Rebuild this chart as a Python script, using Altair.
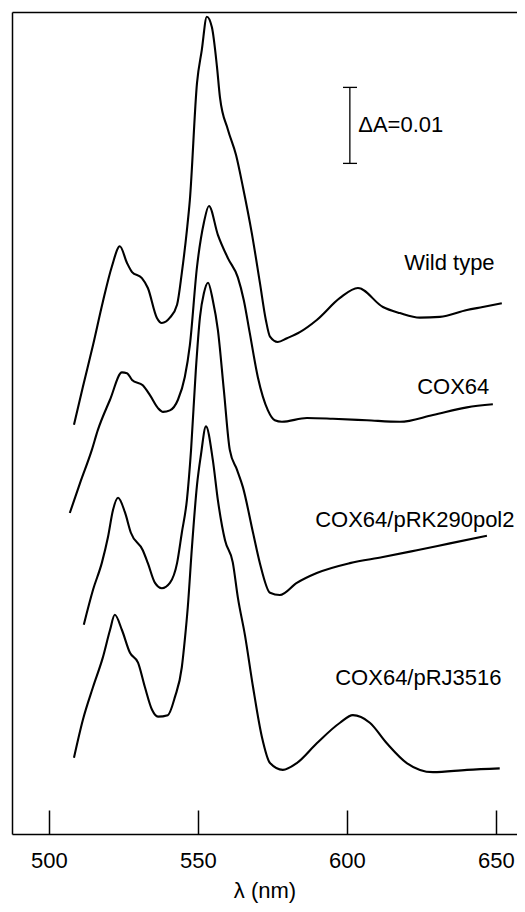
import altair as alt
import pandas as pd

# ---- data (wavelength in nm, absorbance in mA units, curves offset) ----
wt_nm = [508.4, 511.4, 514.8, 518.1, 521.1, 523.8, 526.2, 527.9, 531.2, 533.2, 536.2, 537.9,
         540.6, 543.0, 544.6, 546.3, 547.3, 549.7, 551.3, 553.0, 554.7, 556.4, 557.4, 560.1,
         562.8, 565.1, 568.1, 570.8, 572.8, 574.2, 576.8, 579.9, 584.2, 589.9, 597.7, 603.7,
         612.1, 617.8, 624.5, 631.2, 640.3, 645.6, 652.0]
wt_A = [54.5, 59.5, 65.0, 70.7, 75.3, 78.0, 75.8, 74.6, 73.8, 72.5, 68.6, 67.9,
        68.6, 70.3, 74.5, 80.1, 84.1, 99.5, 103.8, 108.2, 106.8, 101.6, 97.6, 93.3,
        90.0, 85.8, 79.7, 73.2, 68.3, 66.1, 65.4, 65.9, 66.7, 68.3, 71.2, 72.5,
        70.0, 69.2, 68.6, 68.7, 69.6, 70.0, 70.5]

cox_nm = [507.0, 510.4, 514.4, 516.4, 520.5, 524.5, 526.2, 527.9, 531.5, 533.9, 536.6, 538.3,
          540.6, 543.3, 545.6, 547.3, 549.7, 552.0, 553.7, 556.7, 560.1, 563.4, 565.4, 567.4,
          570.1, 573.5, 575.8, 578.2, 586.6, 595.3, 606.7, 617.8, 628.9, 640.3, 649.0]
cox_A = [42.9, 46.8, 51.2, 53.8, 57.8, 61.4, 61.3, 60.4, 59.7, 58.4, 56.7, 56.2,
         56.4, 57.8, 60.8, 65.0, 75.3, 81.1, 83.3, 79.5, 76.4, 73.9, 70.9, 66.6,
         60.8, 56.4, 55.1, 54.9, 55.4, 55.3, 55.1, 54.9, 55.8, 56.8, 57.2]

pol_nm = [511.7, 514.8, 517.8, 519.8, 521.5, 523.2, 525.5, 527.5, 531.5, 533.2, 535.6, 537.9,
          540.6, 543.0, 544.6, 546.3, 547.7, 549.3, 550.7, 552.0, 553.4, 555.0, 556.7, 558.7,
          560.7, 563.1, 565.1, 568.5, 570.8, 574.2, 577.5, 583.2, 589.9, 601.0, 612.1, 623.5,
          634.6, 647.0]
pol_A = [28.2, 32.8, 36.4, 39.7, 43.3, 44.9, 43.0, 40.3, 38.0, 36.3, 33.7, 33.0,
         33.7, 36.3, 40.3, 44.6, 51.2, 61.7, 68.7, 71.8, 73.2, 70.9, 67.0, 59.1,
         51.2, 48.6, 46.3, 40.3, 36.3, 32.4, 32.1, 33.7, 35.0, 36.3, 37.1, 38.0,
         38.9, 39.9]

rj_nm = [508.4, 511.4, 514.8, 518.1, 520.5, 522.1, 524.5, 527.2, 529.9, 532.2, 534.6, 536.6,
         539.9, 542.3, 544.6, 545.6, 546.6, 548.0, 549.7, 551.0, 552.7, 555.0, 556.7, 559.1,
         561.7, 563.4, 565.8, 568.5, 571.5, 574.2, 578.5, 583.2, 589.9, 597.7, 602.0, 607.7,
         613.4, 620.1, 628.9, 640.3, 651.3]
rj_A = [10.7, 15.7, 20.0, 23.9, 27.5, 29.5, 27.5, 24.5, 23.2, 20.0, 17.0, 16.1,
        16.3, 18.7, 22.6, 26.2, 30.5, 38.4, 46.6, 50.5, 54.3, 49.9, 44.6, 39.3,
        36.4, 31.8, 26.8, 20.0, 13.4, 10.0, 9.1, 10.0, 12.6, 15.3, 16.3, 15.3,
        12.6, 10.0, 8.8, 9.1, 9.3]

series_names = ["Wild type", "COX64", "COX64/pRK290pol2", "COX64/pRJ3516"]
label_nm = [634.4, 635.7, 622.8, 624.0]
label_A = [75.8, 59.5, 42.0, 21.2]

tick_vals = [500, 550, 600, 650]

# scale bar (ΔA = 0.01 = 10 mA)
bar_nm = [601.0]
bar_lo = [88.9]
bar_hi = [98.9]
cap_x1 = [598.7, 598.7]
cap_x2 = [603.4, 603.4]
cap_A = [88.9, 98.9]
bar_label = ["ΔA=0.01"]
bar_label_nm = [603.8]
bar_label_A = [93.9]

X_DOMAIN = [487.6, 657.1]
Y_DOMAIN = [0.66, 108.82]

rows = []
for name, xs_, ys_ in zip(series_names, [wt_nm, cox_nm, pol_nm, rj_nm], [wt_A, cox_A, pol_A, rj_A]):
    for a, b in zip(xs_, ys_):
        rows.append({"series": name, "nm": a, "A": b})
df = pd.DataFrame(rows)

FONT = "Liberation Sans"
W, H = 505, 822
xs = alt.Scale(domain=X_DOMAIN, nice=False, zero=False)
ys = alt.Scale(domain=Y_DOMAIN, nice=False, zero=False)

lines = alt.Chart(df).mark_line(color="black", strokeWidth=2.1, interpolate="monotone").encode(
    x=alt.X("nm:Q", scale=xs, axis=alt.Axis(
        orient="bottom", values=tick_vals, ticks=False, domain=True, domainColor="black",
        domainWidth=1.5, grid=False, labelFontSize=22, labelFont=FONT, labelColor="black",
        labelPadding=16, title="λ (nm)", titleFontSize=22, titleFont=FONT,
        titleFontWeight="normal", titleColor="black", titlePadding=9)),
    y=alt.Y("A:Q", scale=ys, axis=alt.Axis(
        orient="left", domain=True, domainColor="black", domainWidth=1.5,
        ticks=False, labels=False, grid=False, title=None)),
    detail="series:N",
)

lab_df = pd.DataFrame({"label": series_names, "nm": label_nm, "A": label_A})
texts = alt.Chart(lab_df).mark_text(font=FONT, fontSize=22, color="black",
                                    align="center", baseline="middle").encode(
    x=alt.X("nm:Q", scale=xs, axis=alt.Axis(
        orient="top", offset=-H, values=tick_vals, ticks=True, tickSize=24,
        tickColor="black", tickWidth=1.5, labels=False, domain=False, grid=False, title=None)),
    y=alt.Y("A:Q", scale=ys, axis=None),
    text="label:N",
)

bar_df = pd.DataFrame({"nm": bar_nm, "lo": bar_lo, "hi": bar_hi})
bar = alt.Chart(bar_df).mark_rule(color="black", strokeWidth=1.3).encode(
    x=alt.X("nm:Q", scale=xs, axis=alt.Axis(
        orient="top", domain=True, domainColor="black", domainWidth=1.5,
        ticks=False, labels=False, grid=False, title=None)),
    y=alt.Y("lo:Q", scale=ys, axis=None),
    y2="hi:Q",
)

caps_df = pd.DataFrame({"x1": cap_x1, "x2": cap_x2, "A": cap_A})
caps = alt.Chart(caps_df).mark_rule(color="black", strokeWidth=1.3).encode(
    x=alt.X("x1:Q", scale=xs, axis=None),
    x2="x2:Q",
    y=alt.Y("A:Q", scale=ys, axis=None),
)

bl_df = pd.DataFrame({"label": bar_label, "nm": bar_label_nm, "A": bar_label_A})
bar_text = alt.Chart(bl_df).mark_text(font=FONT, fontSize=22, color="black",
                                      align="left", baseline="middle").encode(
    x=alt.X("nm:Q", scale=xs, axis=None),
    y=alt.Y("A:Q", scale=ys, axis=None),
    text="label:N",
)

chart = alt.layer(lines, texts, bar, caps, bar_text).resolve_axis(
    x="independent", y="independent"
).properties(
    width=W, height=H,
    autosize=alt.AutoSizeParams(type="none"),
    padding={"left": 4, "top": 4, "right": 0, "bottom": 70},
).configure_view(strokeWidth=0)

chart.save("out.html", embed_options={"renderer": "svg", "actions": False})
